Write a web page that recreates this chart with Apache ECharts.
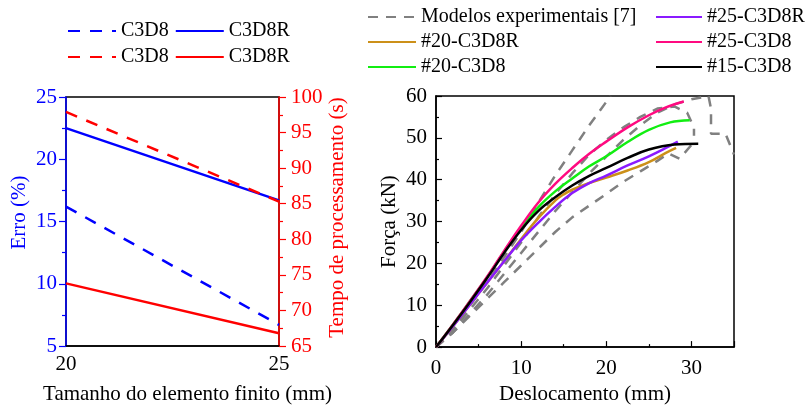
<!DOCTYPE html>
<html>
<head>
<meta charset="utf-8">
<script src="https://cdn.jsdelivr.net/npm/echarts@6/dist/echarts.min.js"></script>
<style>
  html, body { margin: 0; padding: 0; background: #fff; }
  #chart { width: 809px; height: 410px; }
</style>
</head>
<body>
<div id="chart"></div>
<script>
// painel esquerdo: tamanho do elemento x erro / tempo
const sizes = [20, 25]
const erroC3D8 = [16.2, 6.7]
const erroC3D8R = [22.5, 16.7]
const tempoC3D8 = [97.9, 85.3]
const tempoC3D8R = [73.8, 66.8]

// painel direito: curvas força x deslocamento [mm, kN]
const expA = [[0,0],[2,4.5],[4,10],[6,15.5],[8,21.5],[10,27.5],[12,34.5],[14,41],[16,47],[18,53],[20.5,60]]
const expB = [[0,0],[2,4],[4,9],[6,14],[8,19.5],[10,25],[12,31],[14,36.5],[16,41.5],[18,46],[20,49.5],[22,52.5],[24,55],[26,57],[28,57.5],[29.5,56],[30.3,52.5],[30.3,50.5]]
const expC = [[0,0],[2,3.5],[4,8],[6,12.5],[8,17.5],[10,22.5],[12,27.5],[14,32.5],[16,37],[18,41.5],[20,45.5],[22,49.5],[24,53],[26,56],[28,58],[30,59.2],[32,60],[32.3,57],[32.3,51],[34,51],[35,46]]
const expD = [[0,0],[2,3.5],[4,7.5],[6,11.5],[8,15.5],[10,19.5],[12,23.5],[14,27.5],[16,31],[18,33.8],[20,36.6],[22,39.5],[24,42],[26,44.5],[27.3,46.3],[28.6,45],[30,48.3]]
const c25C3D8R = [[0,0],[2,5],[4,10.2],[6,15.4],[8,20.5],[10,25.5],[12,29.7],[14,33.5],[16,36.8],[18,39.2],[20,41],[22.5,43.4],[25,45.6],[27,47.6],[28.4,49.1]]
const c20C3D8R = [[0,0],[2,5],[4,10.2],[6,15.4],[8,20.5],[10,25.8],[12,30.8],[14,35],[15,36.5],[16,37.6],[18,39.2],[20,40.5],[22.5,42.2],[25,44.2],[27,46.4],[28.2,47.6]]
const c25C3D8 = [[0,0],[2,5.4],[4,11],[6,16.8],[8,23],[10,29],[12,34.5],[14,39],[16,42.8],[18,46.2],[20,49.1],[22.5,52.5],[25,55.4],[27,57.3],[29.1,58.7]]
const c20C3D8 = [[0,0],[2,5.4],[4,11],[6,16.7],[8,22.8],[10,28.5],[12,33.4],[14,37.2],[16,40.3],[18,43.2],[20,45.6],[22.5,49],[25,51.9],[27.5,53.7],[29.8,54.2]]
const c15C3D8 = [[0,0],[2,5.3],[4,10.8],[6,16.5],[8,22.5],[10,28],[12,32.5],[14,35.8],[16,38.6],[18,40.9],[20,42.8],[22.5,45.2],[25,47.2],[28,48.4],[30.8,48.6]]

const FONT = 'Liberation Serif'
const BLUE = '#0000ff'
const RED = '#ff0000'
const GRAY = '#808080'

const pair = (xs, ys) => xs.map((x, i) => [x, ys[i]])

const legendText = { fontFamily: FONT, fontSize: 20, color: '#000', lineHeight: 20 }
const legendBase = {
  itemWidth: 48,
  itemHeight: 12,
  itemStyle: { opacity: 0 },
  textStyle: legendText,
  selectedMode: false,
  padding: 0
}

const axisLabel = (color, margin) => ({ fontFamily: FONT, fontSize: 21, color, margin })
const axisName = (color) => ({ fontFamily: FONT, fontSize: 21, color })

const expSeries = [expA, expB, expC, expD].map((d) => ({
  name: 'Modelos experimentais [7]',
  type: 'line',
  xAxisIndex: 1,
  yAxisIndex: 2,
  data: d,
  symbol: 'none',
  lineStyle: { color: GRAY, width: 2.5, type: [10, 8] },
  itemStyle: { color: GRAY },
  z: 1
}))

const simLine = (name, data, color) => ({
  name,
  type: 'line',
  xAxisIndex: 1,
  yAxisIndex: 2,
  data,
  symbol: 'none',
  smooth: 0.4,
  lineStyle: { color, width: 2.5 },
  itemStyle: { color },
  z: 3
})

const option = {
  animation: false,
  backgroundColor: '#fff',
  legend: [
    { ...legendBase, left: 67, top: 21, itemGap: 6, data: ['Erro C3D8', 'Erro C3D8R'],
      formatter: (n) => n.split(' ')[1] },
    { ...legendBase, left: 67, top: 47, itemGap: 6, data: ['Tempo C3D8', 'Tempo C3D8R'],
      formatter: (n) => n.split(' ')[1] },
    { ...legendBase, left: 367, top: 7, orient: 'vertical', itemGap: 5,
      data: ['Modelos experimentais [7]', '#20-C3D8R', '#20-C3D8'] },
    { ...legendBase, left: 655, top: 7, orient: 'vertical', itemGap: 5, itemWidth: 46,
      data: ['#25-C3D8R', '#25-C3D8', '#15-C3D8'] }
  ],
  grid: [
    { left: 66, top: 97, width: 213, height: 254, show: true, borderColor: '#000', borderWidth: 1.5 },
    { left: 436, top: 96, width: 298, height: 254, show: true, borderColor: '#000', borderWidth: 1.5 }
  ],
  xAxis: [
    {
      gridIndex: 0, type: 'value', min: 20, max: 25, interval: 5,
      axisLine: { lineStyle: { color: '#000', width: 1.5 } },
      axisTick: { show: false },
      axisLabel: axisLabel('#000', 8),
      splitLine: { show: false },
      name: 'Tamanho do elemento finito (mm)',
      nameLocation: 'middle', nameGap: 38,
      nameTextStyle: { ...axisName('#000'), padding: [0, 0, 0, 30] }
    },
    {
      gridIndex: 1, type: 'value', min: 0, max: 35, interval: 10,
      axisLine: { lineStyle: { color: '#000', width: 1.5 } },
      axisTick: { inside: true, length: 6, lineStyle: { color: '#000', width: 1.2 } },
      minorTick: { show: true, splitNumber: 2, length: 3, lineStyle: { color: '#000', width: 1.2 } },
      axisLabel: { ...axisLabel('#000', 11), showMaxLabel: false },
      splitLine: { show: false },
      name: 'Deslocamento (mm)',
      nameLocation: 'middle', nameGap: 36,
      nameTextStyle: axisName('#000')
    }
  ],
  yAxis: [
    {
      gridIndex: 0, type: 'value', position: 'left', min: 5, max: 25, interval: 5,
      axisLine: { show: true, lineStyle: { color: BLUE, width: 1.5 } },
      axisTick: { length: 7, lineStyle: { color: BLUE, width: 1.2 } },
      minorTick: { show: true, splitNumber: 2, length: 4, lineStyle: { color: BLUE, width: 1.2 } },
      axisLabel: axisLabel(BLUE, 9),
      splitLine: { show: false },
      name: 'Erro (%)',
      nameLocation: 'middle', nameGap: 36, nameRotate: 90,
      nameTextStyle: { ...axisName(BLUE), padding: [0, 0, 0, 18] }
    },
    {
      gridIndex: 0, type: 'value', position: 'right', min: 65, max: 100, interval: 5,
      axisLine: { show: true, lineStyle: { color: RED, width: 1.5 } },
      axisTick: { length: 7, lineStyle: { color: RED, width: 1.2 } },
      minorTick: { show: true, splitNumber: 2, length: 4, lineStyle: { color: RED, width: 1.2 } },
      axisLabel: axisLabel(RED, 12),
      splitLine: { show: false },
      name: 'Tempo de processamento (s)',
      nameLocation: 'middle', nameGap: 48, nameRotate: 90,
      nameTextStyle: { ...axisName(RED), padding: [0, 0, 0, 8] }
    },
    {
      gridIndex: 1, type: 'value', min: 0, max: 60, interval: 10,
      axisLine: { show: true, lineStyle: { color: '#000', width: 1.5 } },
      axisTick: { inside: true, length: 6, lineStyle: { color: '#000', width: 1.2 } },
      minorTick: { show: true, splitNumber: 2, length: 3, lineStyle: { color: '#000', width: 1.2 } },
      axisLabel: axisLabel('#000', 9),
      splitLine: { show: false },
      name: 'Força (kN)',
      nameLocation: 'middle', nameGap: 36, nameRotate: 90,
      nameTextStyle: axisName('#000')
    }
  ],
  series: [
    { name: 'Erro C3D8', type: 'line', xAxisIndex: 0, yAxisIndex: 0, data: pair(sizes, erroC3D8),
      symbol: 'none', lineStyle: { color: BLUE, width: 2.5, type: [12, 10] }, itemStyle: { color: BLUE } },
    { name: 'Erro C3D8R', type: 'line', xAxisIndex: 0, yAxisIndex: 0, data: pair(sizes, erroC3D8R),
      symbol: 'none', lineStyle: { color: BLUE, width: 2.5 }, itemStyle: { color: BLUE } },
    { name: 'Tempo C3D8', type: 'line', xAxisIndex: 0, yAxisIndex: 1, data: pair(sizes, tempoC3D8),
      symbol: 'none', lineStyle: { color: RED, width: 2.5, type: [12, 10] }, itemStyle: { color: RED } },
    { name: 'Tempo C3D8R', type: 'line', xAxisIndex: 0, yAxisIndex: 1, data: pair(sizes, tempoC3D8R),
      symbol: 'none', lineStyle: { color: RED, width: 2.5 }, itemStyle: { color: RED } },
    ...expSeries,
    simLine('#20-C3D8R', c20C3D8R, '#cc9019'),
    simLine('#25-C3D8R', c25C3D8R, '#8a1aff'),
    simLine('#20-C3D8', c20C3D8, '#11ee11'),
    simLine('#25-C3D8', c25C3D8, '#ff0a80'),
    simLine('#15-C3D8', c15C3D8, '#000000')
  ]
}

const myChart = echarts.init(document.getElementById('chart'))
myChart.setOption(option)
</script>
</body>
</html>
